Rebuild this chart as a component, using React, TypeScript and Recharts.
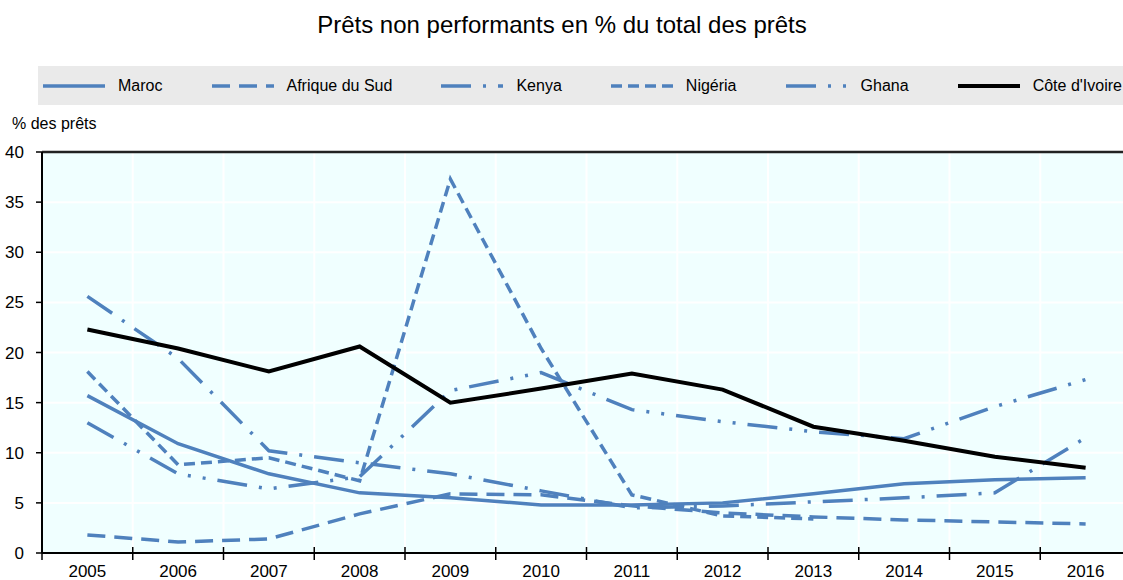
import React from 'react';
import { LineChart, Line, XAxis, YAxis, CartesianGrid, Legend, ReferenceLine } from 'recharts';

const FONT = '"Liberation Sans", Arial, Helvetica, sans-serif';
const BLUE = '#4F81BD';

const title = 'Prêts non performants en % du total des prêts';
const yAxisTitle = '% des prêts';

const years = [2005, 2006, 2007, 2008, 2009, 2010, 2011, 2012, 2013, 2014, 2015, 2016];
const boundaries = [2004.5, 2005.5, 2006.5, 2007.5, 2008.5, 2009.5, 2010.5, 2011.5, 2012.5, 2013.5, 2014.5, 2015.5, 2016.5];
const yTicks = [0, 5, 10, 15, 20, 25, 30, 35, 40];

const maroc = [15.7, 10.9, 7.9, 6.0, 5.5, 4.8, 4.8, 5.0, 5.9, 6.9, 7.3, 7.5];
const afriqueDuSud = [1.8, 1.1, 1.4, 3.9, 5.9, 5.8, 4.7, 4.0, 3.6, 3.3, 3.1, 2.9];
const kenya = [25.6, 19.4, 10.2, 9.0, 7.9, 6.2, 4.5, 4.7, 5.1, 5.5, 6.0, 11.5];
const nigeria = [18.1, 8.8, 9.5, 7.2, 37.3, 20.4, 5.8, 3.7, 3.4, null, null, null];
const ghana = [13.0, 7.9, 6.4, 7.6, 16.2, 18.0, 14.3, 13.1, 12.1, 11.4, 14.6, 17.3];
const coteDIvoire = [22.3, 20.4, 18.1, 20.6, 15.0, 16.4, 17.9, 16.3, 12.6, 11.2, 9.6, 8.5];

type Series = { key: string; name: string; values: (number | null)[]; color: string; width: number; dash?: string };

const series: Series[] = [
  { key: 'maroc', name: 'Maroc', values: maroc, color: BLUE, width: 3.5 },
  { key: 'afriqueDuSud', name: 'Afrique du Sud', values: afriqueDuSud, color: BLUE, width: 3.5, dash: '18 9' },
  { key: 'kenya', name: 'Kenya', values: kenya, color: BLUE, width: 3.5, dash: '30 12 3 12' },
  { key: 'nigeria', name: 'Nigéria', values: nigeria, color: BLUE, width: 3.5, dash: '11 6' },
  { key: 'ghana', name: 'Ghana', values: ghana, color: BLUE, width: 3.5, dash: '30 12 3 12 3 12' },
  { key: 'coteDIvoire', name: "Côte d'Ivoire", values: coteDIvoire, color: '#000000', width: 4 },
];

const data = years.map((year, i) => {
  const row: Record<string, number | null> = { year };
  series.forEach((s) => {
    row[s.key] = s.values[i];
  });
  return row;
});

const xTicks = [...boundaries, ...years].sort((a, b) => a - b);

const XTick = (props: any) => {
  const { x, y, payload } = props;
  const v = payload.value as number;
  if (Number.isInteger(v)) {
    return (
      <text x={x} y={y + 24} textAnchor="middle" fontSize={17} fill="#000" fontFamily={FONT}>
        {v}
      </text>
    );
  }
  return <line x1={x} x2={x} y1={y - 6} y2={y + 7} stroke="#000" strokeWidth={1.5} />;
};

const renderLegend = () => (
  <div
    style={{
      display: 'flex',
      justifyContent: 'space-between',
      alignItems: 'center',
      height: 39,
      background: '#EAEAEA',
      padding: '0 1px 0 5px',
      boxSizing: 'border-box',
      fontFamily: FONT,
      fontSize: 16,
      color: '#000',
    }}
  >
    {series.map((s) => (
      <div key={s.key} style={{ display: 'flex', alignItems: 'center' }}>
        <svg width={62} height={10} style={{ display: 'block' }}>
          <line x1={0} y1={5} x2={62} y2={5} stroke={s.color} strokeWidth={s.width} strokeDasharray={s.dash} />
        </svg>
        <span style={{ marginLeft: 13, whiteSpace: 'nowrap' }}>{s.name}</span>
      </div>
    ))}
  </div>
);

export default function App() {
  return (
    <div
      style={{
        position: 'absolute',
        left: 0,
        top: 0,
        width: 1123,
        height: 580,
        overflow: 'hidden',
        background: '#fff',
        fontFamily: FONT,
      }}
    >
      <LineChart width={1140} height={580} data={data} margin={{ top: 152, right: 9, bottom: 0, left: 0 }}>
        <CartesianGrid
          fill="#F0FFFF"
          fillOpacity={1}
          stroke="#FFFFFF"
          strokeWidth={2}
          verticalValues={boundaries}
          horizontalValues={yTicks}
        />
        <XAxis
          type="number"
          dataKey="year"
          domain={[2004.5, 2016.5]}
          ticks={xTicks}
          interval={0}
          height={27}
          tickSize={0}
          tickMargin={0}
          tickLine={false}
          axisLine={{ stroke: '#000', strokeWidth: 2 }}
          tick={<XTick />}
        />
        <YAxis
          type="number"
          domain={[0, 40]}
          ticks={yTicks}
          interval={0}
          width={42}
          tickSize={6}
          tickMargin={12}
          axisLine={{ stroke: '#000', strokeWidth: 2 }}
          tickLine={{ stroke: '#000', strokeWidth: 1.5 }}
          tick={{ fontSize: 17, fill: '#000', fontFamily: FONT }}
        />
        <ReferenceLine y={40} stroke="#222" strokeWidth={2.5} />
        {series.map((s) => (
          <Line
            key={s.key}
            type="linear"
            dataKey={s.key}
            name={s.name}
            stroke={s.color}
            strokeWidth={s.width}
            strokeDasharray={s.dash}
            dot={false}
            activeDot={false}
            isAnimationActive={false}
            connectNulls={false}
          />
        ))}
        <Legend
          layout="horizontal"
          verticalAlign="middle"
          align="center"
          wrapperStyle={{ top: 66, left: 38, width: 1085, height: 39 }}
          content={renderLegend}
        />
      </LineChart>
      <svg
        width={1123}
        height={150}
        style={{ position: 'absolute', left: 0, top: 0, pointerEvents: 'none' }}
      >
        <text x={562} y={33} textAnchor="middle" fontSize={24} fill="#000" fontFamily={FONT}>
          {title}
        </text>
        <text x={12} y={129} fontSize={16} fill="#000" fontFamily={FONT}>
          {yAxisTitle}
        </text>
      </svg>
    </div>
  );
}
